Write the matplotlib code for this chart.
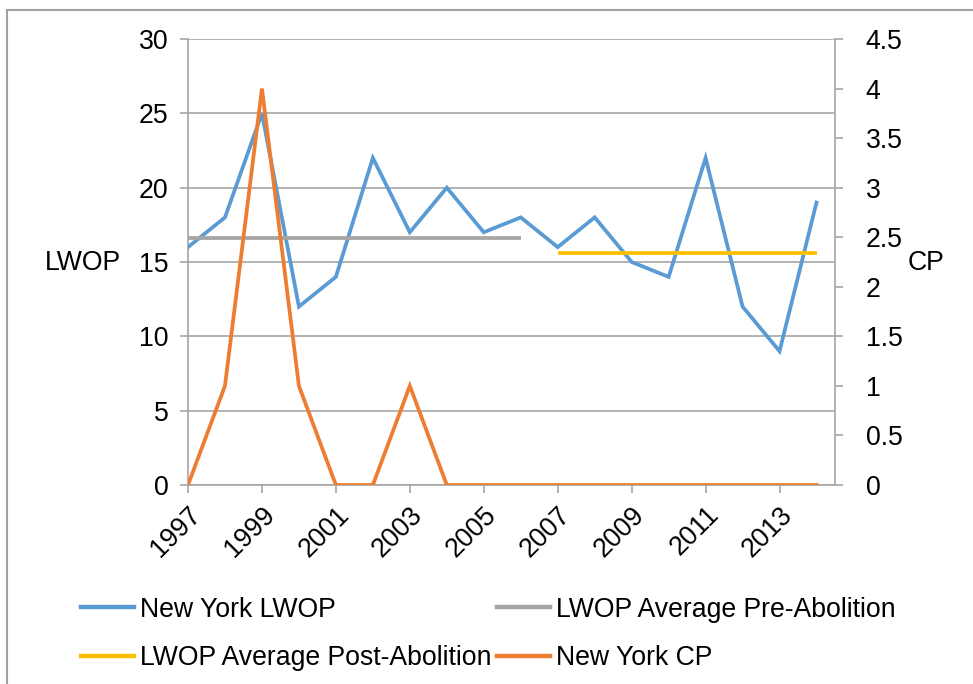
import matplotlib

matplotlib.use("Agg")
import matplotlib.pyplot as plt
from matplotlib.lines import Line2D

plt.rcParams["font.family"] = ["Liberation Sans", "DejaVu Sans"]

# ── data ────────────────────────────────────────────────────────────────
years = list(range(1997, 2015))
ny_lwop = [16, 18, 25, 12, 14, 22, 17, 20, 17, 18, 16, 18, 15, 14, 22, 12, 9, 19]
ny_cp = [0, 1, 4, 1, 0, 0, 1, 0, 0, 0, 0, 0, 0, 0, 0, 0, 0, 0]
pre_years = list(range(1997, 2007))
pre_avg = [16.6] * len(pre_years)
post_years = list(range(2007, 2015))
post_avg = [15.6] * len(post_years)

left_ticks = [0, 5, 10, 15, 20, 25, 30]
right_ticks = [0, 0.5, 1, 1.5, 2, 2.5, 3, 3.5, 4, 4.5]
right_labels = ["0", "0.5", "1", "1.5", "2", "2.5", "3", "3.5", "4", "4.5"]
x_labels = list(range(1997, 2014, 2))

BLUE = "#5b9bd5"
GRAY = "#a5a5a5"
YELLOW = "#ffc000"
ORANGE = "#ed7d31"
AXIS = "#a6a6a6"
FS = 19.2
LW = 2.7

W, H = 973, 684
fig = plt.figure(figsize=(W / 100, H / 100), dpi=100)
ax = fig.add_axes([188 / W, 1 - 485 / H, (835 - 188) / W, (485 - 39) / H])
ax2 = ax.twinx()

l_lwop, = ax.plot(years, ny_lwop, color=BLUE, lw=LW, solid_joinstyle="miter", zorder=3)
l_pre, = ax.plot(pre_years, pre_avg, color=GRAY, lw=LW, solid_capstyle="butt", zorder=3)
l_post, = ax.plot(post_years, post_avg, color=YELLOW, lw=LW, solid_capstyle="butt", zorder=3)
l_cp, = ax2.plot(years, ny_cp, color=ORANGE, lw=LW, solid_joinstyle="miter", zorder=3)

ax.set_xlim(1997, 2014.5)
ax.set_ylim(0, 30)
ax2.set_ylim(0, 4.5)

ax.set_yticks(left_ticks)
ax.set_yticklabels([str(t) for t in left_ticks], fontsize=FS)
ax2.set_yticks(right_ticks)
ax2.set_yticklabels(right_labels, fontsize=FS)
ax.set_xticks(x_labels)
ax.set_xticklabels([str(x) for x in x_labels], fontsize=FS, rotation=45,
                   ha="right", va="top", rotation_mode="anchor")

ax.grid(axis="y", color=AXIS, lw=1.2)
ax.set_axisbelow(True)
for a in (ax, ax2):
    for s in a.spines.values():
        s.set_visible(False)
for a, side in ((ax, "left"), (ax, "bottom"), (ax2, "right")):
    a.spines[side].set_visible(True)
    a.spines[side].set_color(AXIS)
    a.spines[side].set_linewidth(1.2)

ax.tick_params(axis="y", length=6, width=1.2, color=AXIS, pad=8)
ax.tick_params(axis="x", length=6, width=1.2, color=AXIS, pad=6)
ax2.tick_params(axis="y", length=6, width=1.2, color=AXIS, pad=16)

fig.text(45 / W, 1 - 263 / H, "LWOP", fontsize=FS, ha="left", va="center")
fig.text(908 / W, 1 - 263 / H, "CP", fontsize=FS, ha="left", va="center")

# legend (column-major order so rows read: LWOP | Pre, Post | CP)
handles = [Line2D([], [], color=l.get_color(), lw=3.2) for l in (l_lwop, l_post, l_pre, l_cp)]
labels = ["New York LWOP", "LWOP Average Post-Abolition",
          "LWOP Average Pre-Abolition", "New York CP"]
fig.legend(handles, labels, ncol=2, frameon=False, fontsize=FS,
           loc="upper left", bbox_to_anchor=(70 / W, 1 - 586 / H),
           handlelength=2.0, handletextpad=0.22, columnspacing=0.2,
           labelspacing=0.84, borderaxespad=0)

# outer chart border
fig.add_artist(Line2D([7 / W, 7 / W], [0, 1 - 10 / H], color="#a0a0a0", lw=1.5))
fig.add_artist(Line2D([7 / W, 1], [1 - 10 / H, 1 - 10 / H], color="#a0a0a0", lw=1.5))

fig.savefig("out.png", dpi=100, facecolor="white")
